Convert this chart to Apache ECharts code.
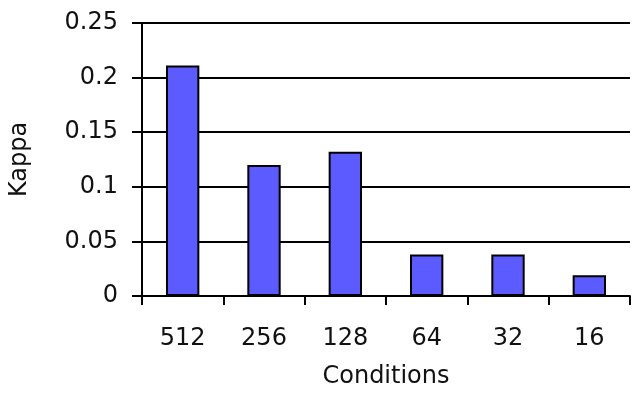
<!DOCTYPE html>
<html>
<head>
<meta charset="utf-8">
<script src="https://cdn.jsdelivr.net/npm/echarts@6/dist/echarts.min.js"></script>
<style>
  html, body { margin: 0; padding: 0; background: #fff; }
  #chart { width: 633px; height: 407px; }
</style>
</head>
<body>
<div id="chart"></div>
<script>
// values
const categories = ['512', '256', '128', '64', '32', '16'];
const kappa = [0.211, 0.12, 0.132, 0.038, 0.038, 0.019];
const yTicks = [0, 0.05, 0.1, 0.15, 0.2, 0.25];

const font = 'DejaVu Sans';

const chart = echarts.init(document.getElementById('chart'), null, { renderer: 'canvas' });

chart.setOption({
  animation: false,
  grid: { left: 140, right: 3, top: 23, bottom: 111, containLabel: false },
  xAxis: {
    type: 'category',
    data: categories,
    name: 'Conditions',
    nameLocation: 'middle',
    nameGap: 69,
    nameTextStyle: { fontFamily: font, fontSize: 24, color: '#111' },
    axisLine: { lineStyle: { color: '#000', width: 2 } },
    axisTick: { show: true, length: 9, lineStyle: { color: '#000', width: 2 } },
    axisLabel: { margin: 31, fontFamily: font, fontSize: 24, color: '#111' }
  },
  yAxis: {
    type: 'value',
    min: 0,
    max: 0.25,
    interval: 0.05,
    name: 'Kappa',
    nameLocation: 'middle',
    nameGap: 110,
    nameTextStyle: { fontFamily: font, fontSize: 24, color: '#111' },
    axisLine: { show: true, lineStyle: { color: '#000', width: 2 } },
    axisTick: { show: true, length: 10, lineStyle: { color: '#000', width: 2 } },
    axisLabel: {
      margin: 24, fontFamily: font, fontSize: 24, color: '#111',
      formatter: v => String(yTicks.find(t => Math.abs(t - v) < 1e-9) ?? v)
    },
    splitLine: { show: true, lineStyle: { color: '#000', width: 2 } }
  },
  series: [{
    type: 'bar',
    data: kappa,
    barWidth: '41%',
    itemStyle: { color: '#5b5bff', borderColor: '#000', borderWidth: 2 }
  }]
});
</script>
</body>
</html>
